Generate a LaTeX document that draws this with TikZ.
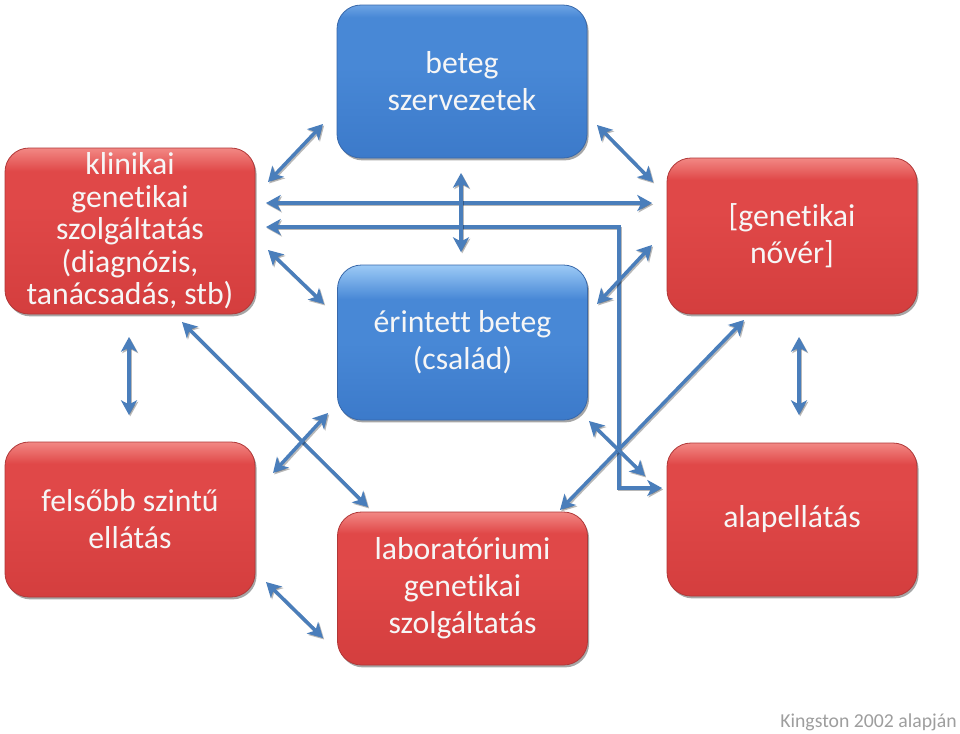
\documentclass[tikz,border=0pt]{standalone}
\usepackage{fontspec}
\setmainfont{Carlito}[Ligatures={NoCommon}]
\usetikzlibrary{arrows.meta,shadows}
\definecolor{arrowblue}{RGB}{74,126,187}
\definecolor{redmain}{RGB}{224,72,72}
\definecolor{redtop}{RGB}{242,136,132}
\definecolor{redbot}{RGB}{212,62,62}
\definecolor{redline}{RGB}{176,56,56}
\definecolor{bluemain}{RGB}{72,136,214}
\definecolor{bluetop}{RGB}{156,202,246}
\definecolor{bluelite}{RGB}{110,164,228}
\definecolor{bluebot}{RGB}{60,122,202}
\definecolor{blueline}{RGB}{56,104,170}
\definecolor{footgray}{RGB}{158,158,158}
\definecolor{textwhite}{RGB}{246,246,246}
\pgfdeclareverticalshading{redgloss}{100bp}{color(0bp)=(redbot); color(25bp)=(redbot); color(58bp)=(redmain); color(68bp)=(redmain); color(75bp)=(redtop); color(100bp)=(redtop)}
\pgfdeclareverticalshading{bluegloss}{100bp}{color(0bp)=(bluebot); color(25bp)=(bluebot); color(55bp)=(bluemain); color(71bp)=(bluemain); color(75bp)=(bluelite); color(100bp)=(bluelite)}
\pgfdeclareverticalshading{bluegloss2}{100bp}{color(0bp)=(bluebot); color(25bp)=(bluebot); color(50bp)=(bluemain); color(64bp)=(bluemain); color(75bp)=(bluetop); color(100bp)=(bluetop)}
\newcommand\mylink[1]{\draw[linkshadow] #1; \draw[link] #1;}
\tikzset{
  x=0.75pt, y=-0.75pt,
  boxbase/.style={rounded corners=18pt, minimum width=187.5pt, minimum height=114.75pt,
    inner sep=0pt, align=center, text=textwhite, line width=0.6pt,
    font=\fontsize{23.8}{27.8}\selectfont,
    drop shadow={shadow xshift=1.2pt, shadow yshift=-1.8pt, opacity=0.35, fill=black}},
  redbox/.style={boxbase, draw=redline, shading=redgloss},
  bluebox/.style={boxbase, draw=blueline, shading=bluegloss},
  blueboxgloss/.style={boxbase, draw=blueline, shading=bluegloss2},
  linktips/.style={{Stealth[length=11pt,width=12pt,inset=3pt]}-{Stealth[length=11pt,width=12pt,inset=3pt]}},
  link/.style={draw=arrowblue, line width=2.6pt, linktips},
  linkshadow/.style={draw=black, opacity=0.28, line width=2.6pt, linktips,
    transform canvas={shift={(0.9pt,-1.1pt)}}},
  foot/.style={text=footgray, font=\fontsize{14.8}{17}\selectfont, inner sep=0pt, anchor=base east}
}
\begin{document}
\begin{tikzpicture}
\useasboundingbox (0,0) rectangle (960,733);
\fill[white] (0,0) rectangle (960,733);

% boxes
\node[redbox, minimum height=124.5pt, font=\fontsize{23.8}{24.4}\selectfont] (kg) at (130,231)
  {klinikai\\genetikai\\szolgáltatás\\(diagnózis,\\tanácsadás, stb)};
\node[bluebox] (bsz) at (462,81.5) {beteg\\szervezetek};
\node[blueboxgloss, minimum height=116.25pt] (eb) at (462.5,342.5) {érintett beteg\\(család)};
\node[redbox, minimum height=117pt] (gn) at (792,236) {[genetikai\\nővér]};
\node[redbox, minimum height=116.25pt] (fsz) at (130,519.5) {felsőbb szintű\\ellátás};
\node[redbox] (lab) at (462.5,588.5) {laboratóriumi\\genetikai\\szolgáltatás};
\node[redbox] (alap) at (792,519.5) {alapellátás};

\node[foot] (src) at (957,727) {Kingston 2002 alapján};

% arrow end points
\coordinate (a1s) at (268,182); \coordinate (a1e) at (323,124);
\coordinate (a2s) at (597,125); \coordinate (a2e) at (653,182);
\coordinate (a3s) at (266,203); \coordinate (a3e) at (652,203);
\coordinate (a4s) at (266,227); \coordinate (a4k1) at (619,227);
\coordinate (a4k2) at (619,488); \coordinate (a4e) at (662,488);
\coordinate (a5s) at (461,173); \coordinate (a5e) at (461,252);
\coordinate (a6s) at (268,250); \coordinate (a6e) at (324,304);
\coordinate (a7s) at (652,245); \coordinate (a7e) at (597,304);
\coordinate (a8s) at (129,337); \coordinate (a8e) at (129,415);
\coordinate (a9s) at (799,337); \coordinate (a9e) at (799,415);
\coordinate (a10s) at (182,322); \coordinate (a10e) at (368,507);
\coordinate (a11s) at (273,473); \coordinate (a11e) at (328,413);
\coordinate (a12s) at (744,320); \coordinate (a12e) at (560,510);
\coordinate (a13s) at (589,421); \coordinate (a13e) at (645,476);
\coordinate (a14s) at (266,582); \coordinate (a14e) at (323,638);

% connectors
\mylink{(a1s) -- (a1e)}
\mylink{(a2s) -- (a2e)}
\mylink{(a3s) -- (a3e)}
\mylink{(a4s) -- (a4k1) -- (a4k2) -- (a4e)}
\mylink{(a5s) -- (a5e)}
\mylink{(a6s) -- (a6e)}
\mylink{(a7s) -- (a7e)}
\mylink{(a8s) -- (a8e)}
\mylink{(a9s) -- (a9e)}
\mylink{(a10s) -- (a10e)}
\mylink{(a11s) -- (a11e)}
\mylink{(a12s) -- (a12e)}
\mylink{(a13s) -- (a13e)}
\mylink{(a14s) -- (a14e)}
\end{tikzpicture}
\end{document}
